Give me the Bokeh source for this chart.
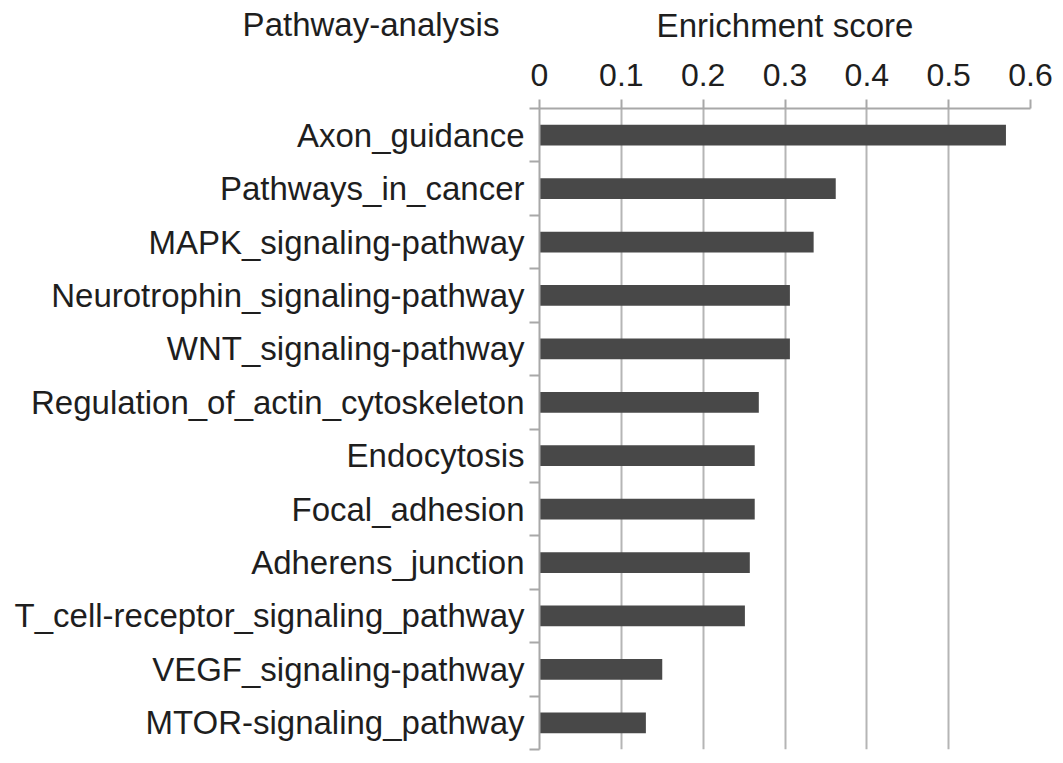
from bokeh.plotting import figure
from bokeh.models import Range1d, FixedTicker, Title, Label
from bokeh.embed import file_html
from bokeh.resources import INLINE

# ---- data (top to bottom as in the chart) ----
pathways = [
    "Axon_guidance",
    "Pathways_in_cancer",
    "MAPK_signaling-pathway",
    "Neurotrophin_signaling-pathway",
    "WNT_signaling-pathway",
    "Regulation_of_actin_cytoskeleton",
    "Endocytosis",
    "Focal_adhesion",
    "Adherens_junction",
    "T_cell-receptor_signaling_pathway",
    "VEGF_signaling-pathway",
    "MTOR-signaling_pathway",
]
scores = [0.570, 0.362, 0.335, 0.306, 0.306, 0.268, 0.263, 0.263, 0.257, 0.251, 0.150, 0.130]
x_ticks = [0, 0.1, 0.2, 0.3, 0.4, 0.5, 0.6]
x_tick_labels = ["0", "0.1", "0.2", "0.3", "0.4", "0.5", "0.6"]
x_title = "Enrichment score"
y_title = "Pathway-analysis"

n = len(pathways)
ypos = [n - 1 - i for i in range(n)]          # top item gets highest position
boundaries = [k - 0.5 for k in range(n + 1)]

FONT = "Liberation Sans"
TXT = "#1e1e1e"
GRID = "#b5b5b5"
AX = "#a8a8a8"

p = figure(
    width=1063, height=763,
    x_range=Range1d(0, 0.6), y_range=Range1d(-0.5, n - 0.5),
    x_axis_location="above",
    output_backend="svg", toolbar_location=None,
    min_border_left=539, min_border_right=33, min_border_top=108, min_border_bottom=14,
)
p.outline_line_color = None
p.background_fill_color = "white"
p.border_fill_color = "white"

p.hbar(y=ypos, right=scores, left=0, height=0.39, fill_color="#484848", line_color=None)

# x axis (top)
xa = p.xaxis[0]
xa.ticker = FixedTicker(ticks=x_ticks, minor_ticks=[])
xa.major_label_overrides = {t: l for t, l in zip(x_ticks, x_tick_labels)}
xa.major_tick_out = 9
xa.major_tick_in = 0
xa.minor_tick_out = 0
xa.minor_tick_in = 0
xa.axis_line_color = AX
xa.axis_line_width = 2
xa.major_tick_line_color = AX
xa.major_tick_line_width = 2
xa.major_label_text_font = FONT
xa.major_label_text_font_size = "32px"
xa.major_label_text_color = TXT
xa.major_label_standoff = 14

# y axis (left): labels at centres, small ticks at boundaries
ya = p.yaxis[0]
ya.ticker = FixedTicker(ticks=ypos, minor_ticks=boundaries)
ya.major_label_overrides = {y: name for y, name in zip(ypos, pathways)}
ya.major_tick_out = 0
ya.major_tick_in = 0
ya.minor_tick_out = 10
ya.minor_tick_in = 0
ya.minor_tick_line_color = AX
ya.minor_tick_line_width = 2
ya.axis_line_color = AX
ya.axis_line_width = 2
ya.major_label_text_font = FONT
ya.major_label_text_font_size = "33px"
ya.major_label_text_color = TXT
ya.major_label_standoff = 5

p.xgrid.ticker = FixedTicker(ticks=x_ticks)
p.xgrid.grid_line_color = GRID
p.xgrid.grid_line_width = 2
p.ygrid.grid_line_color = None

# category-column heading, placed in data coordinates inside a side panel (not clipped)
lab = Label(x=-0.2059, y=n - 0.5 + 1.57, x_units="data", y_units="data",
            text=y_title, text_align="center", text_baseline="alphabetic",
            text_font=FONT, text_font_size="33px", text_color=TXT)
p.add_layout(lab, "above")

# value-axis heading
t = Title(text=x_title, align="center", standoff=-40,
          text_font=FONT, text_font_size="33px", text_font_style="normal",
          text_color=TXT, vertical_align="bottom")
p.add_layout(t, "above")

open("out.html", "w").write(file_html(p, INLINE))
